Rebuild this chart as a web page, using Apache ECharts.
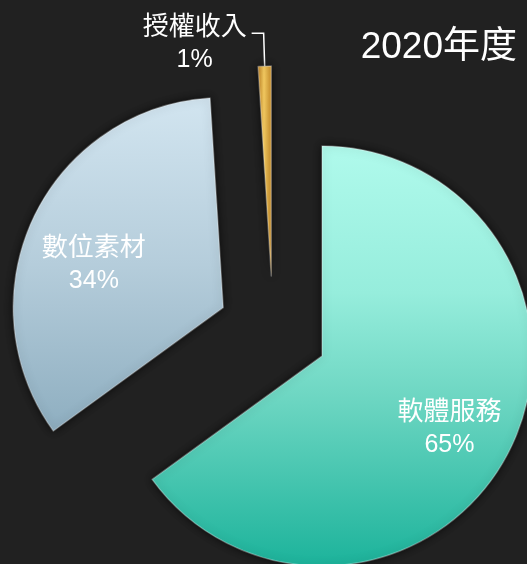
<!DOCTYPE html>
<html><head><meta charset="utf-8">
<script src="https://cdn.jsdelivr.net/npm/echarts@6/dist/echarts.min.js"></script>
<style>html,body{margin:0;padding:0;background:#212121;}#c{width:527px;height:564px;}</style>
</head><body><div id="c"></div>
<script>
const categories = ['軟體服務', '數位素材', '授權收入'];
const values = [65, 34, 1];
const titleText = '2020年度';

const FONT = "'Liberation Sans', 'Noto Sans CJK TC', sans-serif";
const grad = (stops, horiz) => ({
  type: 'linear', x: 0, y: 0, x2: horiz ? 1 : 0, y2: horiz ? 0 : 1,
  colorStops: stops.map(s => ({offset: s[0], color: s[1]}))
});
const fills = [
  grad([[0, '#b0faec'], [0.35, '#96eddc'], [0.6, '#6dd6c2'], [1, '#1cb39b']]),
  grad([[0, '#d2e5f0'], [0.5, '#b5cddb'], [1, '#8eaec0']]),
  grad([[0, '#b87a1e'], [0.45, '#f7cd62'], [1, '#c58a28']], true)
];
const labelPad = [[16, 0, 0, 0], [36, 0, 0, 0], [0, 0, 0, 0]];
const CENTER = [273, 331];
const R = 210;
const OFFSET = 55;

const rich = {
  n: {color: '#ffffff', fontSize: 26, lineHeight: 32, fontFamily: FONT, width: 106, align: 'center'},
  v: {color: '#ffffff', fontSize: 25, lineHeight: 32, fontFamily: FONT, width: 106, align: 'center'}
};

const chart = echarts.init(document.getElementById('c'));
chart.setOption({
  backgroundColor: '#212121',
  animation: false,
  title: {
    text: titleText, right: 5, top: 24,
    textStyle: {color: '#ffffff', fontSize: 37, fontWeight: 'normal', fontFamily: FONT}
  },
  series: [
    {
      type: 'pie', center: CENTER, radius: R, startAngle: 90, clockwise: true,
      selectedMode: 'multiple', selectedOffset: OFFSET, silent: true,
      avoidLabelOverlap: false, emphasis: {disabled: true},
      itemStyle: {shadowBlur: 10, shadowColor: 'rgba(0,0,0,0.75)', borderWidth: 1.5, borderColor: 'rgba(255,255,255,0.3)'},
      data: categories.map((n, i) => ({
        name: n, value: values[i], selected: true,
        itemStyle: {color: fills[i]},
        label: i === 2 ? {
          show: true, position: 'outside', distanceToLabelLine: 4,
          padding: [22, 0, 0, 0],
          formatter: p => '{n|' + p.name + '}\n{v|' + p.value + '%}',
          rich: rich
        } : {show: false},
        labelLine: i === 2 ? {show: true, length: 33, length2: 12, smooth: false,
          lineStyle: {color: '#ffffff', width: 1.5}} : {show: false}
      }))
    },
    {
      type: 'pie', center: CENTER, radius: [70, R], startAngle: 90, clockwise: true,
      selectedMode: 'multiple', selectedOffset: OFFSET, silent: true,
      avoidLabelOverlap: false, emphasis: {disabled: true}, z: 5,
      itemStyle: {color: 'rgba(0,0,0,0)'},
      labelLine: {show: false},
      data: categories.map((n, i) => ({
        name: n, value: values[i], selected: true,
        label: i === 2 ? {show: false} : {
          show: true, position: 'inside', padding: labelPad[i],
          formatter: p => '{n|' + p.name + '}\n{v|' + p.value + '%}',
          rich: rich
        }
      }))
    }
  ]
});
</script></body></html>
